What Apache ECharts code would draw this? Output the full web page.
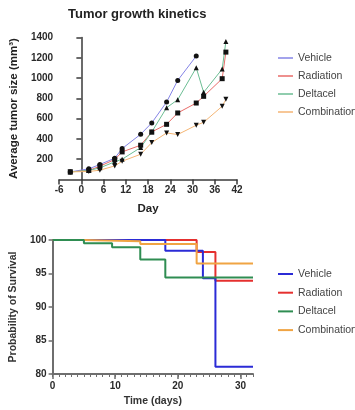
<!DOCTYPE html>
<html>
<head>
<meta charset="utf-8">
<script src="https://cdn.jsdelivr.net/npm/echarts@6/dist/echarts.min.js"></script>
<style>html,body{margin:0;padding:0;background:#fff}#c{width:355px;height:410px}</style>
</head>
<body>
<div id="c"></div>
<script>
// ---- Tumor growth data ----
const days = [-3, 2, 5, 9, 11, 16, 19, 23, 26, 31, 33, 38, 39];
const vehicle = [75, 105, 148, 210, 305, 446, 558, 764, 977, 1217, null, null, null];
const radiation = [75, 89, 131, 197, 272, 338, 469, 544, 656, 754, 820, 994, 1256];
const deltacel = [75, 89, 115, 174, 200, 315, 469, 708, 787, 1102, 859, 1089, 1361];
const combination = [75, 79, 92, 134, 180, 249, 364, 459, 443, 535, 564, 722, 790];
const groupNames = ['Vehicle', 'Radiation', 'Deltacel', 'Combination'];

// ---- Survival data (Kaplan-Meier steps) ----
const survVehicleT = [0, 18, 24, 26, 32];
const survVehicleP = [100, 98.4, 94.3, 81.1, 81.1];
const survRadiationT = [0, 23, 26, 32];
const survRadiationP = [100, 98.2, 93.9, 93.9];
const survDeltacelT = [0, 5, 9.5, 14, 18, 32];
const survDeltacelP = [100, 99.5, 98.9, 97.1, 94.4, 94.4];
const survCombinationT = [0, 5, 14, 23, 32];
const survCombinationP = [100, 99.8, 99.4, 96.5, 96.5];

const topColors = ['#8484e6', '#e86b68', '#6bbd93', '#f4b574'];
const botColors = ['#2b2bd6', '#e5302f', '#2f8d52', '#f0a443'];
const FONT = 'Liberation Sans, Arial, sans-serif';

function pairs(xs, ys) {
  const out = [];
  for (let i = 0; i < xs.length; i++) if (ys[i] != null) out.push([xs[i], ys[i]]);
  return out;
}

const chart = echarts.init(document.getElementById('c'), null, {renderer: 'canvas'});
const topAxisLine = {lineStyle: {color: '#3a3a3a', width: 1.5}};
const botAxisLine = {lineStyle: {color: '#6e6e6e', width: 2}};
const tickLbl = {fontFamily: FONT, fontSize: 10, fontWeight: 'bold', color: '#2a2a2a', formatter: v => String(v)};

const option = {
  animation: false,
  textStyle: {fontFamily: FONT},
  title: {
    text: 'Tumor growth kinetics', left: 68, top: 8, padding: 0,
    textStyle: {fontFamily: FONT, fontSize: 13, fontWeight: 'bold', color: '#222'}
  },
  legend: [
    {
      orient: 'vertical', left: 273, top: 47, itemWidth: 15, itemHeight: 1.5, itemGap: 6,
      textStyle: {fontFamily: FONT, fontSize: 10.5, color: '#444', lineHeight: 12},
      selectedMode: false,
      data: groupNames.map((n, i) => ({name: n, icon: 'rect', itemStyle: {color: topColors[i]}}))
    },
    {
      orient: 'vertical', left: 273, top: 263, itemWidth: 15, itemHeight: 2, itemGap: 6.7,
      textStyle: {fontFamily: FONT, fontSize: 10.5, color: '#444', lineHeight: 12},
      selectedMode: false,
      data: groupNames.map((n, i) => ({name: n, icon: 'rect', itemStyle: {color: botColors[i]}}))
    }
  ],
  grid: [
    {left: 32.5, top: 37.5, width: 204.5, height: 142},
    {left: 52, top: 240, width: 201, height: 134}
  ],
  xAxis: [
    {
      type: 'value', gridIndex: 0, min: -6, max: 42, interval: 6,
      axisLine: Object.assign({onZero: false}, topAxisLine),
      axisTick: {length: 5, lineStyle: {color: '#3a3a3a', width: 1.5}},
      axisLabel: Object.assign({margin: 6}, tickLbl),
      splitLine: {show: false},
      name: 'Day', nameLocation: 'middle', nameGap: 23,
      nameTextStyle: {fontFamily: FONT, fontSize: 11.5, fontWeight: 'bold', color: '#222'}
    },
    {
      type: 'value', gridIndex: 1, position: 'bottom', min: 0, max: 32, interval: 10,
      axisLine: Object.assign({onZero: false}, botAxisLine),
      axisTick: {length: 5, lineStyle: {color: '#6e6e6e', width: 1.5}},
      axisLabel: Object.assign({margin: 7, showMaxLabel: false}, tickLbl),
      splitLine: {show: false},
      name: 'Time (days)', nameLocation: 'middle', nameGap: 22,
      nameTextStyle: {fontFamily: FONT, fontSize: 10.5, fontWeight: 'bold', color: '#333'}
    },
    {
      type: 'value', gridIndex: 1, position: 'bottom', min: 0, max: 32, interval: 1,
      axisLine: {show: false, onZero: false},
      axisTick: {length: 3, lineStyle: {color: '#6e6e6e', width: 1}},
      axisLabel: {show: false},
      splitLine: {show: false}
    }
  ],
  yAxis: [
    {
      type: 'value', gridIndex: 0, min: 0, max: 1400, interval: 200,
      axisLine: Object.assign({onZero: true}, topAxisLine),
      axisTick: {show: true, length: 5, lineStyle: {color: '#3a3a3a', width: 1.5}},
      axisLabel: Object.assign({margin: 6, showMinLabel: false}, tickLbl),
      splitLine: {show: false},
      name: 'Average tumor size (mm³)', nameLocation: 'middle', nameRotate: 90, nameGap: 32,
      nameTextStyle: {fontFamily: FONT, fontSize: 11.5, fontWeight: 'bold', color: '#222'}
    },
    {
      type: 'value', gridIndex: 1, min: 80, max: 100, interval: 5,
      axisLine: Object.assign({onZero: false}, botAxisLine),
      axisTick: {show: true, length: 4, lineStyle: {color: '#6e6e6e', width: 1.5}},
      axisLabel: Object.assign({margin: 6}, tickLbl),
      splitLine: {show: false},
      name: 'Probability of Survival', nameLocation: 'middle', nameRotate: 90, nameGap: 28,
      nameTextStyle: {fontFamily: FONT, fontSize: 10.5, fontWeight: 'bold', color: '#333'}
    }
  ],
  series: [
    {name: 'Vehicle', data: pairs(days, vehicle), symbol: 'circle', symbolRotate: 0, color: topColors[0]},
    {name: 'Radiation', data: pairs(days, radiation), symbol: 'rect', symbolRotate: 0, color: topColors[1]},
    {name: 'Deltacel', data: pairs(days, deltacel), symbol: 'triangle', symbolRotate: 0, color: topColors[2]},
    {name: 'Combination', data: pairs(days, combination), symbol: 'triangle', symbolRotate: 180, color: topColors[3]}
  ].map(s => ({
    type: 'line', name: s.name, xAxisIndex: 0, yAxisIndex: 0, data: s.data,
    symbol: s.symbol, symbolRotate: s.symbolRotate, symbolSize: 5, showSymbol: true,
    lineStyle: {color: s.color, width: 1},
    itemStyle: {color: '#111', borderWidth: 0},
    emphasis: {disabled: true}, z: 3
  })).concat([
    {name: 'Radiation', t: survRadiationT, p: survRadiationP, c: botColors[1]},
    {name: 'Vehicle', t: survVehicleT, p: survVehicleP, c: botColors[0]},
    {name: 'Combination', t: survCombinationT, p: survCombinationP, c: botColors[3]},
    {name: 'Deltacel', t: survDeltacelT, p: survDeltacelP, c: botColors[2]}
  ].map(s => ({
    type: 'line', name: s.name, xAxisIndex: 1, yAxisIndex: 1, data: pairs(s.t, s.p),
    step: 'end', showSymbol: false, symbol: 'none',
    lineStyle: {color: s.c, width: 2},
    itemStyle: {color: s.c},
    emphasis: {disabled: true}, z: 2
  })))
};
chart.setOption(option);
</script>
</body>
</html>
